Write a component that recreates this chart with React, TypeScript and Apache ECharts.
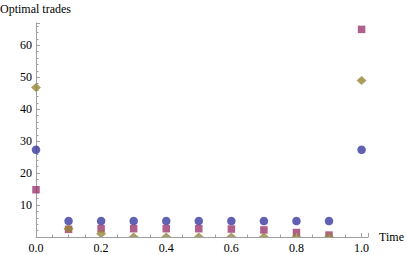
import React, { useEffect, useRef } from "react";
import * as echarts from "echarts";

const times = [0, 0.1, 0.2, 0.3, 0.4, 0.5, 0.6, 0.7, 0.8, 0.9, 1.0];
const seriesBlue = [27.3, 5, 5, 5, 5, 5, 5, 5, 5, 5, 27.3];
const seriesMagenta = [14.8, 2.4, 2.6, 2.6, 2.6, 2.6, 2.5, 2.2, 1.4, 0.6, 65];
const seriesGold = [46.8, 2.6, 1.0, 0, 0, 0, 0, 0, 0, 0, 49];
const xTickLabels = ["0.0", "0.2", "0.4", "0.6", "0.8", "1.0"];
const yTickLabels = ["10", "20", "30", "40", "50", "60"];

const FONT = "'Liberation Serif', 'Times New Roman', serif";
const AXIS_GRAY = "#a0a0a0";

export default function App() {
  const ref = useRef<HTMLDivElement>(null);
  useEffect(() => {
    if (!ref.current) return;
    const chart = echarts.init(ref.current, null, { renderer: "svg" });
    const pts = (vals: number[]) => times.map((t, i) => [t, vals[i]]);
    const fmtX = (v: number) => {
      const s = v.toFixed(1);
      return xTickLabels.includes(s) && Math.abs(v * 5 - Math.round(v * 5)) < 1e-6 ? s : "";
    };
    const fmtY = (v: number) => {
      const s = String(Math.round(v));
      return yTickLabels.includes(s) && Math.abs(v - Math.round(v)) < 1e-6 ? s : "";
    };
    chart.setOption({
      animation: false,
      title: {
        text: "Optimal trades",
        left: 0,
        top: 3,
        padding: 0,
        textStyle: { fontFamily: FONT, fontSize: 12, fontWeight: "normal", color: "#000" },
      },
      grid: { left: 36, right: 38, top: 23, bottom: 18 },
      xAxis: {
        type: "value",
        min: 0,
        max: 1.02,
        interval: 0.2,
        z: 4,
        name: "Time",
        nameLocation: "end",
        nameGap: 11,
        nameTextStyle: { fontFamily: FONT, fontSize: 12, color: "#000" },
        axisLine: { show: true, lineStyle: { color: AXIS_GRAY, width: 1 } },
        axisTick: { show: true, inside: true, length: 4, lineStyle: { color: AXIS_GRAY } },
        minorTick: { show: true, splitNumber: 4, length: 2.5, lineStyle: { color: AXIS_GRAY } },
        splitLine: { show: false },
        axisLabel: { fontFamily: FONT, fontSize: 12, color: "#000", margin: 5, formatter: fmtX, showMaxLabel: false },
      },
      yAxis: {
        type: "value",
        min: 0,
        max: 67,
        interval: 10,
        axisLine: { show: true, lineStyle: { color: AXIS_GRAY, width: 1 } },
        axisTick: { show: true, inside: true, length: 4, lineStyle: { color: AXIS_GRAY } },
        minorTick: { show: true, splitNumber: 5, length: 2.5, lineStyle: { color: AXIS_GRAY } },
        splitLine: { show: false },
        axisLabel: { fontFamily: FONT, fontSize: 12, color: "#000", margin: 4, formatter: fmtY, showMinLabel: false },
      },
      graphic: {
        elements: [
          {
            type: "rect",
            left: 0,
            top: 237.5,
            z: 3,
            shape: { width: 407, height: 18 },
            style: { fill: "#ffffff" },
            silent: true,
          },
        ],
      },
      series: [
        {
          type: "scatter",
          name: "blue",
          data: pts(seriesBlue),
          symbol: "circle",
          symbolSize: 8.5,
          itemStyle: { color: "#3a3aa0" },
          clip: false,
          z: 2,
        },
        {
          type: "scatter",
          name: "magenta",
          data: pts(seriesMagenta),
          symbol: "rect",
          symbolSize: 7.5,
          itemStyle: { color: "#9c366f" },
          clip: false,
          z: 2,
        },
        {
          type: "scatter",
          name: "gold",
          data: pts(seriesGold),
          symbol: "diamond",
          symbolSize: [10, 9],
          itemStyle: { color: "#968634" },
          clip: false,
          z: 2,
        },
      ],
    });
    return () => chart.dispose();
  }, []);
  return (
    <div
      ref={ref}
      style={{ position: "fixed", left: 0, top: 0, width: 407, height: 255, background: "#fff" }}
    />
  );
}
